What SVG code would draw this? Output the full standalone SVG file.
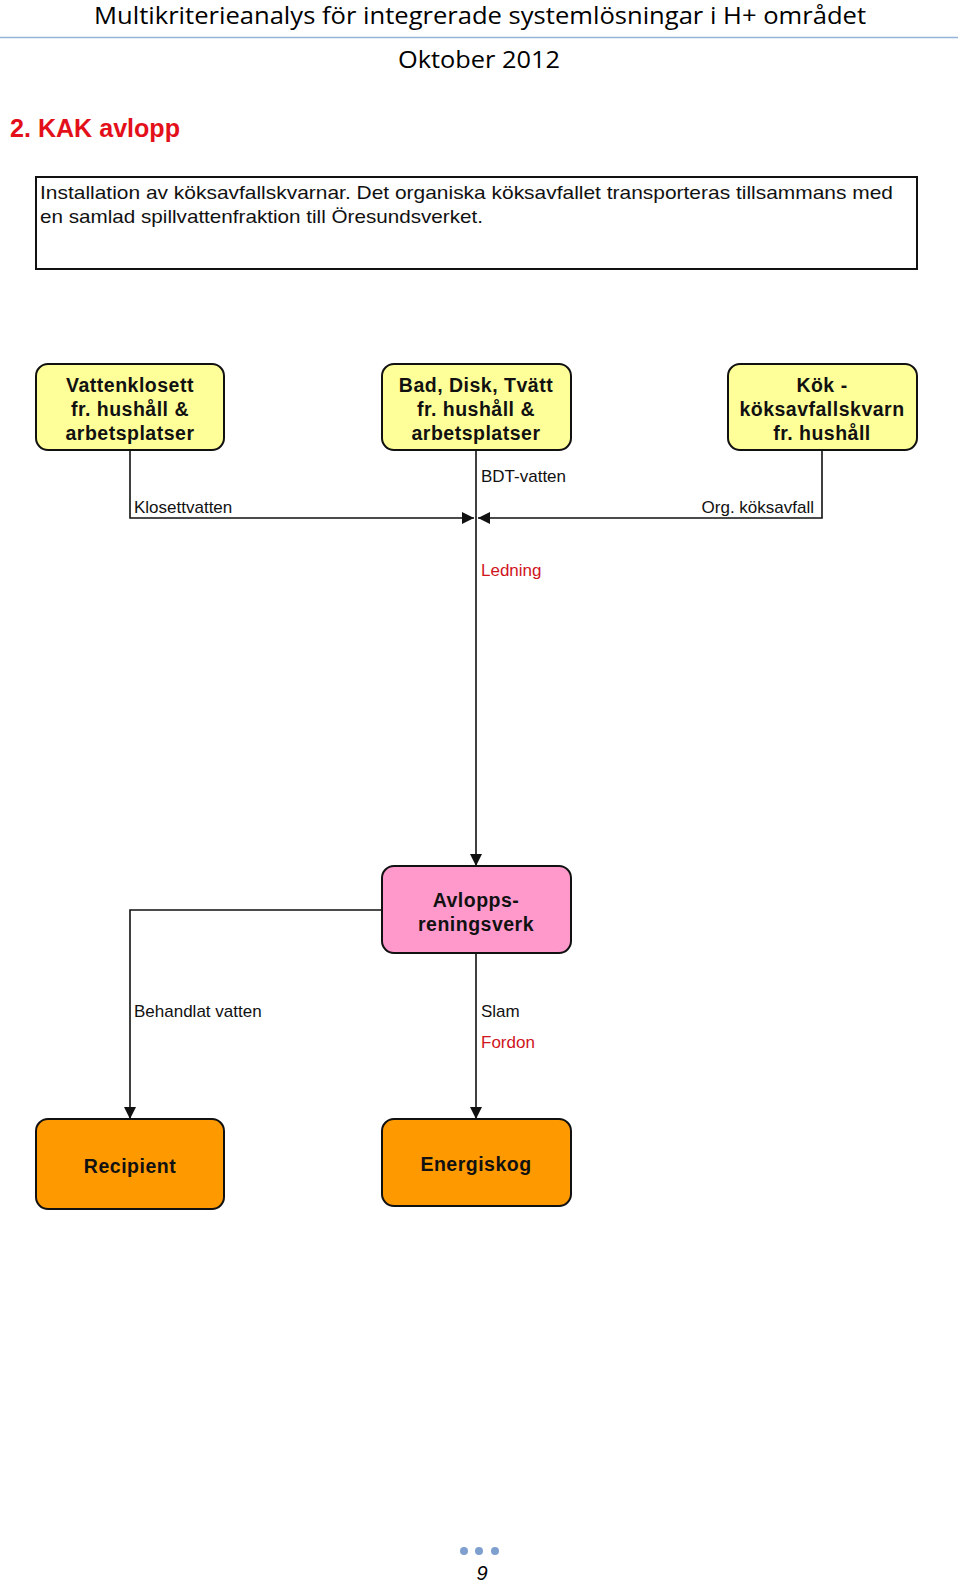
<svg xmlns="http://www.w3.org/2000/svg" width="960" height="1584" viewBox="0 0 960 1584">
<style>
.hdr{font-family:"Open Sans","Liberation Sans",sans-serif;font-size:23px;fill:#000;text-anchor:middle}
.node{stroke:#111;stroke-width:2}
.yel{fill:#ffff99}
.pink{fill:#ff99cc}
.org{fill:#ff9900}
.nt{font-family:"Liberation Sans",Arial,sans-serif;font-weight:bold;font-size:19.5px;letter-spacing:0.5px;fill:#111;text-anchor:middle}
.lbl{font-family:"Liberation Sans",Arial,sans-serif;font-size:17px;fill:#111}
.red{fill:#d0141c}
.conn{fill:none;stroke:#111;stroke-width:1.6}
.desc{font-family:"Liberation Sans Narrow","Liberation Sans",Arial,sans-serif;font-size:19px;fill:#111}
</style>
<defs>
<marker id="arrB" viewBox="0 0 12 12" refX="12" refY="6" markerWidth="12" markerHeight="12" markerUnits="userSpaceOnUse" orient="auto">
<path d="M0,0 L12,6 L0,12 Z" fill="#111"/>
</marker>
</defs>
<rect width="960" height="1584" fill="#fff"/>
<g id="header">
<text class="hdr" x="480" y="24" textLength="772" lengthAdjust="spacingAndGlyphs">Multikriterieanalys för integrerade systemlösningar i H+ området</text>
<line x1="0" y1="37.5" x2="958" y2="37.5" stroke="#95b3d7" stroke-width="1.5"/>
<text class="hdr" x="479" y="68" textLength="162" lengthAdjust="spacingAndGlyphs">Oktober 2012</text>
<text x="10" y="137" font-family="Liberation Sans Narrow,Liberation Sans,Arial,sans-serif" font-weight="bold" font-size="26" fill="#e3101a" textLength="170" lengthAdjust="spacingAndGlyphs">2. KAK avlopp</text>
</g>
<g id="description">
<rect x="36" y="177" width="881" height="92" fill="#fff" stroke="#111" stroke-width="2"/>
<text class="desc" x="40" y="199" textLength="853" lengthAdjust="spacingAndGlyphs">Installation av köksavfallskvarnar.  Det organiska köksavfallet  transporteras  tillsammans med</text>
<text class="desc" x="40" y="223" textLength="443" lengthAdjust="spacingAndGlyphs">en samlad spillvattenfraktion  till Öresundsverket.</text>
</g>
<g id="connectors">
<polyline class="conn" points="130,450 130,518 474,518" marker-end="url(#arrB)"/>
<polyline class="conn" points="822,450 822,518 478,518" marker-end="url(#arrB)"/>
<line class="conn" x1="476" y1="450" x2="476" y2="866" marker-end="url(#arrB)"/>
<polyline class="conn" points="382,910 130,910 130,1119" marker-end="url(#arrB)"/>
<line class="conn" x1="476" y1="953" x2="476" y2="1119" marker-end="url(#arrB)"/>
<text class="lbl" x="481" y="482">BDT-vatten</text>
<text class="lbl" x="134" y="513">Klosettvatten</text>
<text class="lbl" x="814" y="513" text-anchor="end">Org. köksavfall</text>
<text class="lbl red" x="481" y="576">Ledning</text>
<text class="lbl" x="134" y="1017">Behandlat vatten</text>
<text class="lbl" x="481" y="1017">Slam</text>
<text class="lbl red" x="481" y="1048">Fordon</text>
</g>
<g id="n-vattenklosett">
<rect class="node yel" x="36" y="364" width="188" height="86" rx="12"/>
<text class="nt" x="130" y="392">Vattenklosett</text>
<text class="nt" x="130" y="416">fr. hushåll &amp;</text>
<text class="nt" x="130" y="440">arbetsplatser</text>
</g>
<g id="n-bad">
<rect class="node yel" x="382" y="364" width="189" height="86" rx="12"/>
<text class="nt" x="476" y="392">Bad, Disk, Tvätt</text>
<text class="nt" x="476" y="416">fr. hushåll &amp;</text>
<text class="nt" x="476" y="440">arbetsplatser</text>
</g>
<g id="n-kok">
<rect class="node yel" x="728" y="364" width="189" height="86" rx="12"/>
<text class="nt" x="822" y="392">Kök -</text>
<text class="nt" x="822" y="416">köksavfallskvarn</text>
<text class="nt" x="822" y="440">fr. hushåll</text>
</g>
<g id="n-avlopp">
<rect class="node pink" x="382" y="866" width="189" height="87" rx="12"/>
<text class="nt" x="476" y="907" font-size="20">Avlopps-</text>
<text class="nt" x="476" y="931" font-size="20">reningsverk</text>
</g>
<g id="n-recipient">
<rect class="node org" x="36" y="1119" width="188" height="90" rx="12"/>
<text class="nt" x="130" y="1173" font-size="21">Recipient</text>
</g>
<g id="n-energiskog">
<rect class="node org" x="382" y="1119" width="189" height="87" rx="12"/>
<text class="nt" x="476" y="1171" font-size="21">Energiskog</text>
</g>
<g id="footer">
<circle cx="464" cy="1551" r="4" fill="#7f9fcf"/>
<circle cx="479" cy="1551" r="4" fill="#7f9fcf"/>
<circle cx="495" cy="1551" r="4" fill="#7f9fcf"/>
<text x="482" y="1580" font-family="Liberation Sans,sans-serif" font-style="italic" font-size="20" fill="#000" text-anchor="middle">9</text>
</g>
</svg>
